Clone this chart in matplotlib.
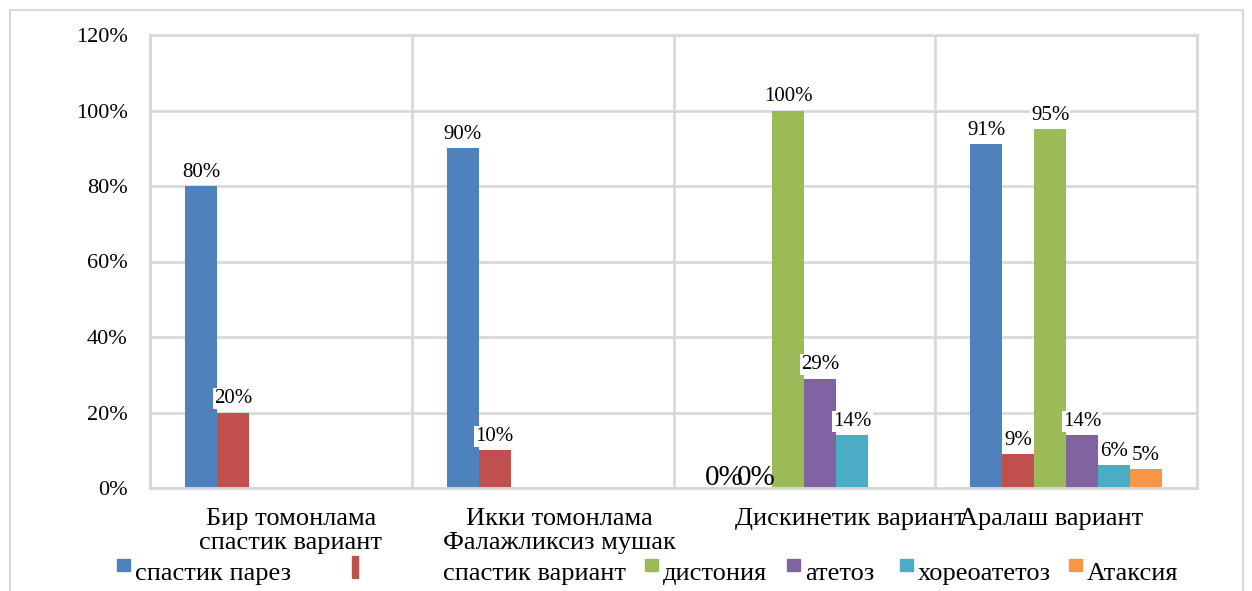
import numpy as np
import matplotlib
matplotlib.use('Agg')
import matplotlib.pyplot as plt
from matplotlib.patches import Rectangle
from matplotlib.transforms import ScaledTranslation

plt.rcParams['font.family'] = 'serif'
plt.rcParams['font.serif'] = ['Liberation Serif', 'DejaVu Serif']

categories = ['Бир томонлама\nспастик вариант',
              'Икки томонлама\nФалажликсиз мушак',
              'Дискинетик вариант',
              'Аралаш вариант']
series_names = ['спастик парез', 'спастик вариант', 'дистония', 'атетоз', 'хореоатетоз', 'Атаксия']
colors = ['#4F81BD', '#C0504D', '#9BBB59', '#8064A2', '#4BACC6', '#F79646']
nan = np.nan
values = [
    [80, 90, 0, 91],      # спастик парез
    [20, 10, 0, 9],       # спастик вариант
    [nan, nan, 100, 95],  # дистония
    [nan, nan, 29, 14],   # атетоз
    [nan, nan, 14, 6],    # хореоатетоз
    [nan, nan, nan, 5],   # Атаксия
]
yticks = [0, 20, 40, 60, 80, 100, 120]

fig = plt.figure(figsize=(12.52, 5.91), dpi=100)
ax = fig.add_axes([150 / 1252, 1 - 488 / 591, 1047 / 1252, 453 / 591])

x = np.arange(len(categories))
w = 0.1222
grid_c = '#d9d9d9'
for i, vals in enumerate(values):
    pos = x + (i - 2.5) * w
    v = np.array(vals, dtype=float)
    ax.bar(pos, v, width=w, color=colors[i], zorder=2)
    for p, val in zip(pos, v):
        if np.isnan(val):
            continue
        if val == 0:
            # zero labels sit on the baseline, drawn a bit bigger and tight
            ax.annotate('0%', (p, 0), xytext=(0, -2), textcoords='offset points',
                        ha='center', va='bottom', fontsize=21, zorder=4)
        else:
            ax.annotate(f'{val:.0f}%', (p, val), xytext=(0, 3), textcoords='offset points',
                        ha='center', va='bottom', fontsize=15, zorder=4,
                        bbox=dict(boxstyle='square,pad=0.05', fc='white', ec='none'))

ax.set_xlim(-0.5, 3.5)
ax.set_ylim(0, 120)
ax.set_yticks(yticks)
ax.set_yticklabels([f'{t}%' for t in yticks], fontsize=16)
ax.set_xticks(x)
ax.set_xticklabels([''] * len(categories))
# excel put the category labels slightly off-centre
trans = ax.get_xaxis_transform()
for xi, cat, dx in zip(x, categories, [10, 17, 46, -15]):
    ax.text(xi, 0, cat, transform=trans + ScaledTranslation(dx / 100, -0.20, fig.dpi_scale_trans),
            ha='center', va='top', fontsize=19, linespacing=1.1)
ax.set_xticks(np.arange(-0.5, 4, 1), minor=True)
ax.tick_params(axis='both', which='both', length=0)
ax.tick_params(axis='y', pad=16)
ax.grid(axis='y', which='major', color=grid_c, lw=2, zorder=0)
ax.grid(axis='x', which='minor', color=grid_c, lw=2, zorder=0)
for s in ax.spines.values():
    s.set_color(grid_c)
    s.set_linewidth(2)

# legend drawn by hand in pixel positions
def px(xp, yp):
    return xp / 1252, 1 - yp / 591

legend_items = [(117, 559, 13, 12, 135), (352, 556, 6, 22, 443), (645, 559, 13, 12, 663),
                (787, 559, 13, 12, 805), (900, 559, 13, 12, 918), (1069, 559, 13, 12, 1087)]
for (mx, my, mw, mh, tx), name, c in zip(legend_items, series_names, colors):
    x0, y0 = px(mx, my + mh)
    fig.patches.append(Rectangle((x0, y0), mw / 1252, mh / 591, transform=fig.transFigure,
                                 color=c))
    fig.text(*px(tx, 574), name, fontsize=19, va='center', ha='left')

# outer chart border
fig.patches.append(Rectangle(px(10, 600), 1233 / 1252, 590 / 591, transform=fig.transFigure,
                             fill=False, ec=grid_c, lw=1.5))

fig.savefig('out.png', dpi=100)
